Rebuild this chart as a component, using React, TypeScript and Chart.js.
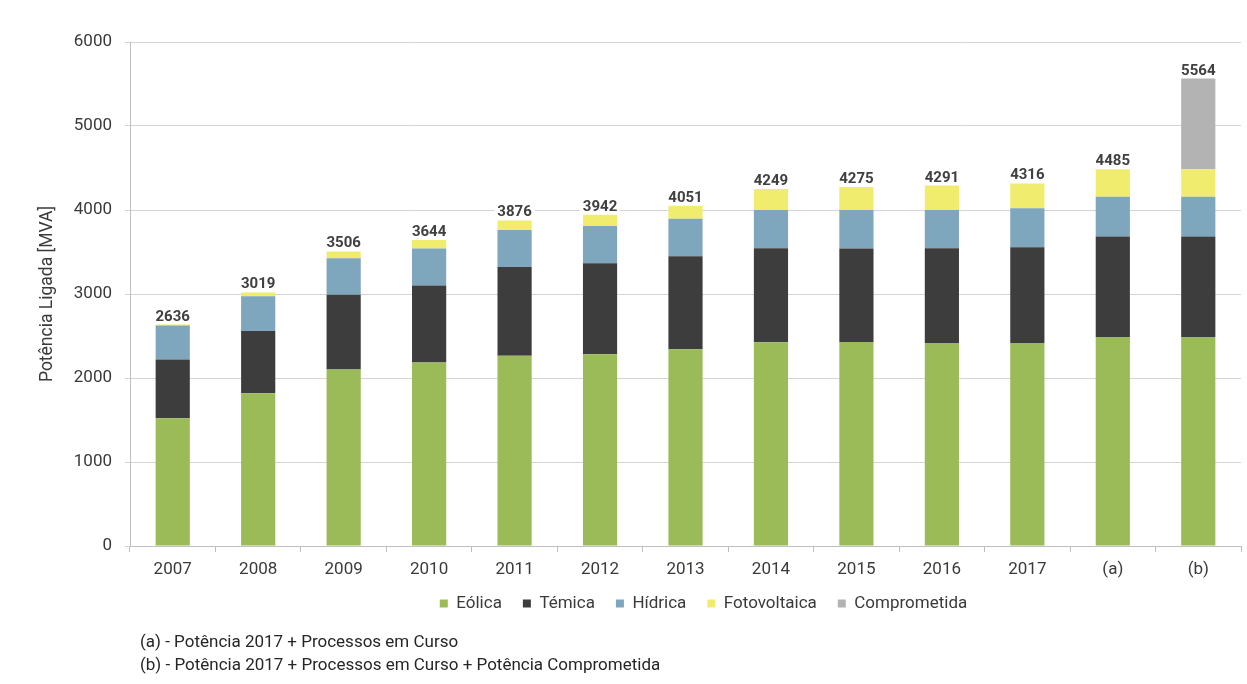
import React, { useEffect, useRef } from 'react';
import { Chart, registerables } from 'chart.js';

Chart.register(...registerables);

const categories = ['2007', '2008', '2009', '2010', '2011', '2012', '2013', '2014', '2015', '2016', '2017', '(a)', '(b)'];
const eolica = [1520, 1817, 2100, 2185, 2264, 2284, 2343, 2426, 2430, 2418, 2418, 2489, 2489];
const termica = [700, 744, 892, 915, 1057, 1081, 1105, 1120, 1112, 1127, 1139, 1195, 1195];
const hidrica = [405, 411, 433, 442, 442, 446, 449, 454, 458, 455, 463, 474, 474];
const fotovoltaica = [11, 47, 81, 102, 113, 131, 154, 249, 275, 291, 296, 327, 327];
const comprometida = [null, null, null, null, null, null, null, null, null, null, null, null, 1079];
const totals = [2636, 3019, 3506, 3644, 3876, 3942, 4051, 4249, 4275, 4291, 4316, 4485, 5564];
const yTicks = [0, 1000, 2000, 3000, 4000, 5000, 6000];
const footnotes = [
  '(a) - Potência 2017 + Processos em Curso',
  '(b) - Potência 2017 + Processos em Curso + Potência Comprometida',
];

const FONT = 'Roboto, "Open Sans", sans-serif';
const TEXT = '#3a3a3a';

export default function App() {
  const ref = useRef<HTMLCanvasElement>(null);

  useEffect(() => {
    document.body.style.margin = '0';
    const canvas = ref.current;
    if (!canvas) return;

    const totalsPlugin = {
      id: 'totalsLabels',
      afterDatasetsDraw(chart: any) {
        const ctx = chart.ctx;
        ctx.save();
        ctx.font = `bold 15px ${FONT}`;
        ctx.textAlign = 'center';
        ctx.textBaseline = 'alphabetic';
        categories.forEach((_, i) => {
          let top = Infinity;
          let x = 0;
          chart.data.datasets.forEach((ds: any, d: number) => {
            const v = ds.data[i];
            if (v == null) return;
            const el = chart.getDatasetMeta(d).data[i];
            if (el && el.y < top) {
              top = el.y;
              x = el.x;
            }
          });
          if (!isFinite(top)) return;
          const txt = String(totals[i]);
          const w = ctx.measureText(txt).width;
          const base = top - 4;
          ctx.fillStyle = '#ffffff';
          ctx.fillRect(x - w / 2 - 3, base - 13, w + 6, 14);
          ctx.fillStyle = '#404040';
          ctx.fillText(txt, x, base);
        });
        ctx.restore();
      },
    };

    const legendShift = {
      id: 'legendShift',
      afterLayout(chart: any) {
        const lg = chart.legend;
        if (lg) {
          const h = lg.bottom - lg.top;
          lg.left = 166;
          lg.right = 1241;
          lg.top = 574;
          lg.bottom = 574 + h;
        }
      },
    };

    const chart = new Chart(canvas, {
      type: 'bar',
      data: {
        labels: categories,
        datasets: [
          { label: 'Eólica', data: eolica, backgroundColor: '#9BBB59' },
          { label: 'Témica', data: termica, backgroundColor: '#3D3D3D' },
          { label: 'Hídrica', data: hidrica, backgroundColor: '#7EA6BC' },
          { label: 'Fotovoltaica', data: fotovoltaica, backgroundColor: '#F0EC6E' },
          { label: 'Comprometida', data: comprometida as any, backgroundColor: '#B3B3B3' },
        ],
      },
      options: {
        responsive: false,
        animation: false,
        datasets: {
          bar: { categoryPercentage: 1, barPercentage: 0.4 },
        },
        layout: { padding: { top: 42, right: 6, bottom: 51, left: 0 } },
        plugins: {
          legend: {
            position: 'bottom',
            labels: {
              boxWidth: 8,
              boxHeight: 8,
              padding: 21,
              color: TEXT,
              font: { family: FONT, size: 17 },
            },
          },
          tooltip: { enabled: false },
        },
        scales: {
          x: {
            stacked: true,
            grid: {
              display: true,
              drawOnChartArea: false,
              drawTicks: true,
              tickLength: 6,
              color: '#bfbfbf',
              offset: true,
            },
            border: { display: true, color: '#bfbfbf' },
            ticks: { color: TEXT, font: { family: FONT, size: 17 }, padding: 8, maxRotation: 0 },
            afterFit(s: any) {
              s.height = 39;
            },
          },
          y: {
            stacked: true,
            min: 0,
            max: 6000,
            afterBuildTicks(s: any) {
              s.ticks = yTicks.map((v) => ({ value: v }));
            },
            ticks: {
              color: TEXT,
              font: { family: FONT, size: 17 },
              padding: 13,
              callback: (v: any) => String(v),
            },
            grid: { color: '#d4d4d4', lineWidth: 1, tickLength: 5, drawTicks: true },
            border: { display: true, color: '#bfbfbf' },
            title: {
              display: true,
              text: 'Potência Ligada [MVA]',
              color: TEXT,
              font: { family: FONT, size: 17.5 },
              padding: { top: 37, bottom: 0 },
            },
            afterFit(s: any) {
              s.width = 130;
            },
          },
        },
      },
      plugins: [totalsPlugin, legendShift],
    });

    return () => chart.destroy();
  }, []);

  return (
    <div style={{ position: 'relative', width: 1247, height: 684, background: '#fff' }}>
      <canvas ref={ref} width={1247} height={684} style={{ display: 'block' }} />
      <div
        style={{
          position: 'absolute',
          left: 140,
          top: 630,
          fontFamily: FONT,
          fontSize: 17,
          lineHeight: '23px',
          color: '#262626',
          whiteSpace: 'nowrap',
        }}
      >
        {footnotes.map((t) => (
          <div key={t}>{t}</div>
        ))}
      </div>
    </div>
  );
}
